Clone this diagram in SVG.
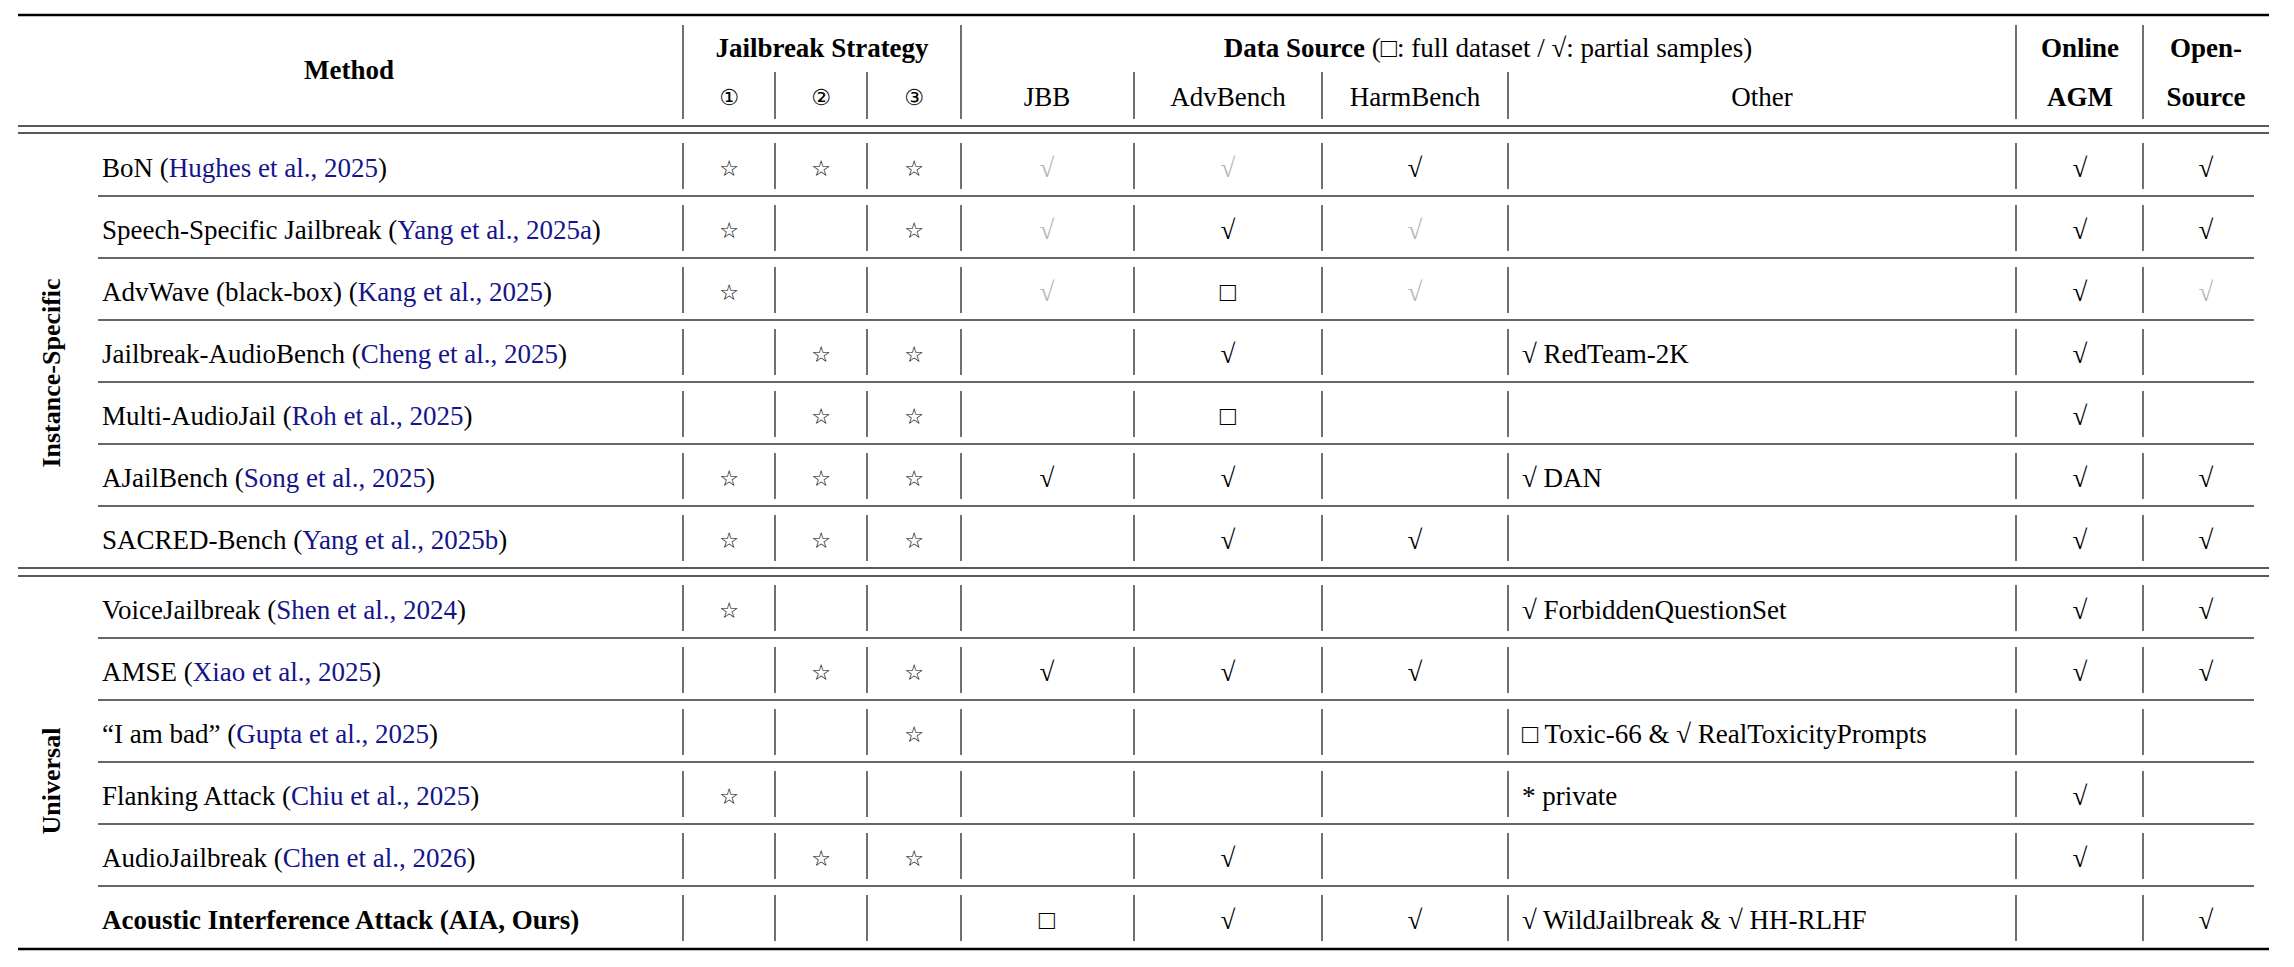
<svg xmlns="http://www.w3.org/2000/svg" width="2294" height="967" viewBox="0 0 2294 967">
<style>
text{font-family:"Liberation Serif","DejaVu Serif",serif;font-size:27px;fill:#000;dominant-baseline:central}
.b{font-weight:bold}
.c{text-anchor:middle}
.l{fill:#14148c}
.g{fill:#b8b8b8}
.s{font-size:22px;font-family:"DejaVu Sans",sans-serif}
.rule{stroke:#000;stroke-width:2.6}
.dbl{stroke:#222;stroke-width:1.6}
.sep{stroke:#333;stroke-width:1.4}
.v{stroke:#333;stroke-width:1.4}
.grp{font-weight:bold;font-size:26px}
</style>
<g id="rules">
<line class="rule" x1="18" y1="15" x2="2269" y2="15"/>
<line class="dbl" x1="18" y1="126" x2="2269" y2="126"/>
<line class="dbl" x1="18" y1="133" x2="2269" y2="133"/>
<line class="dbl" x1="18" y1="568" x2="2269" y2="568"/>
<line class="dbl" x1="18" y1="576" x2="2269" y2="576"/>
<line class="rule" x1="18" y1="949" x2="2269" y2="949"/>
<g class="sep">
<line x1="98" y1="196" x2="2254" y2="196"/><line x1="98" y1="258" x2="2254" y2="258"/>
<line x1="98" y1="320" x2="2254" y2="320"/><line x1="98" y1="382" x2="2254" y2="382"/>
<line x1="98" y1="444" x2="2254" y2="444"/><line x1="98" y1="506" x2="2254" y2="506"/>
<line x1="98" y1="638" x2="2254" y2="638"/><line x1="98" y1="700" x2="2254" y2="700"/>
<line x1="98" y1="762" x2="2254" y2="762"/><line x1="98" y1="824" x2="2254" y2="824"/>
<line x1="98" y1="886" x2="2254" y2="886"/>
</g>
<g class="v">
<line x1="683" y1="25" x2="683" y2="119"/><line x1="961" y1="25" x2="961" y2="119"/>
<line x1="2016" y1="25" x2="2016" y2="119"/><line x1="2143" y1="25" x2="2143" y2="119"/>
<line x1="775" y1="72" x2="775" y2="119"/><line x1="867" y1="72" x2="867" y2="119"/>
<line x1="1134" y1="72" x2="1134" y2="119"/><line x1="1322" y1="72" x2="1322" y2="119"/>
<line x1="1508" y1="72" x2="1508" y2="119"/>
</g>
<path id="vb" class="v" d=""/>
</g>
<g id="header">
<text class="b c" x="349" y="70">Method</text>
<text class="b c" x="822" y="48">Jailbreak Strategy</text>
<text class="c s" x="729" y="97">①</text><text class="c s" x="821" y="97">②</text><text class="c s" x="914" y="97">③</text>
<text class="c" x="1488" y="48"><tspan class="b">Data Source</tspan> (□: full dataset / √: partial samples)</text>
<text class="c" x="1047" y="97">JBB</text><text class="c" x="1228" y="97">AdvBench</text>
<text class="c" x="1415" y="97">HarmBench</text><text class="c" x="1762" y="97">Other</text>
<text class="b c" x="2080" y="48">Online</text><text class="b c" x="2080" y="97">AGM</text>
<text class="b c" x="2206" y="48">Open-</text><text class="b c" x="2206" y="97">Source</text>
</g>
<g id="groups">
<text class="grp c" transform="translate(51,373) rotate(-90)">Instance-Specific</text>
<text class="grp c" transform="translate(51,781) rotate(-90)">Universal</text>
</g>
<g id="rowlines" class="v">
<path d="M683 143V189M775 143V189M867 143V189M961 143V189M1134 143V189M1322 143V189M1508 143V189M2016 143V189M2143 143V189"/>
<path d="M683 205V251M775 205V251M867 205V251M961 205V251M1134 205V251M1322 205V251M1508 205V251M2016 205V251M2143 205V251"/>
<path d="M683 267V313M775 267V313M867 267V313M961 267V313M1134 267V313M1322 267V313M1508 267V313M2016 267V313M2143 267V313"/>
<path d="M683 329V375M775 329V375M867 329V375M961 329V375M1134 329V375M1322 329V375M1508 329V375M2016 329V375M2143 329V375"/>
<path d="M683 391V437M775 391V437M867 391V437M961 391V437M1134 391V437M1322 391V437M1508 391V437M2016 391V437M2143 391V437"/>
<path d="M683 453V499M775 453V499M867 453V499M961 453V499M1134 453V499M1322 453V499M1508 453V499M2016 453V499M2143 453V499"/>
<path d="M683 515V561M775 515V561M867 515V561M961 515V561M1134 515V561M1322 515V561M1508 515V561M2016 515V561M2143 515V561"/>
<path d="M683 585V631M775 585V631M867 585V631M961 585V631M1134 585V631M1322 585V631M1508 585V631M2016 585V631M2143 585V631"/>
<path d="M683 647V693M775 647V693M867 647V693M961 647V693M1134 647V693M1322 647V693M1508 647V693M2016 647V693M2143 647V693"/>
<path d="M683 709V755M775 709V755M867 709V755M961 709V755M1134 709V755M1322 709V755M1508 709V755M2016 709V755M2143 709V755"/>
<path d="M683 771V817M775 771V817M867 771V817M961 771V817M1134 771V817M1322 771V817M1508 771V817M2016 771V817M2143 771V817"/>
<path d="M683 833V879M775 833V879M867 833V879M961 833V879M1134 833V879M1322 833V879M1508 833V879M2016 833V879M2143 833V879"/>
<path d="M683 895V941M775 895V941M867 895V941M961 895V941M1134 895V941M1322 895V941M1508 895V941M2016 895V941M2143 895V941"/>
</g>
<g id="row1">
<text x="102" y="168">BoN (<tspan class="l">Hughes et al., 2025</tspan>)</text>
<text class="c s" x="729" y="168">☆</text><text class="c s" x="821" y="168">☆</text><text class="c s" x="914" y="168">☆</text>
<text class="c g" x="1047" y="168">√</text><text class="c g" x="1228" y="168">√</text><text class="c" x="1415" y="168">√</text>
<text class="c" x="2080" y="168">√</text><text class="c" x="2206" y="168">√</text>
</g>
<g id="row2">
<text x="102" y="230">Speech-Specific Jailbreak (<tspan class="l">Yang et al., 2025a</tspan>)</text>
<text class="c s" x="729" y="230">☆</text><text class="c s" x="914" y="230">☆</text>
<text class="c g" x="1047" y="230">√</text><text class="c" x="1228" y="230">√</text><text class="c g" x="1415" y="230">√</text>
<text class="c" x="2080" y="230">√</text><text class="c" x="2206" y="230">√</text>
</g>
<g id="row3">
<text x="102" y="292">AdvWave (black-box) (<tspan class="l">Kang et al., 2025</tspan>)</text>
<text class="c s" x="729" y="292">☆</text>
<text class="c g" x="1047" y="292">√</text><text class="c" x="1228" y="292">□</text><text class="c g" x="1415" y="292">√</text>
<text class="c" x="2080" y="292">√</text><text class="c g" x="2206" y="292">√</text>
</g>
<g id="row4">
<text x="102" y="354">Jailbreak-AudioBench (<tspan class="l">Cheng et al., 2025</tspan>)</text>
<text class="c s" x="821" y="354">☆</text><text class="c s" x="914" y="354">☆</text>
<text class="c" x="1228" y="354">√</text><text x="1522" y="354">√ RedTeam-2K</text>
<text class="c" x="2080" y="354">√</text>
</g>
<g id="row5">
<text x="102" y="416">Multi-AudioJail (<tspan class="l">Roh et al., 2025</tspan>)</text>
<text class="c s" x="821" y="416">☆</text><text class="c s" x="914" y="416">☆</text>
<text class="c" x="1228" y="416">□</text>
<text class="c" x="2080" y="416">√</text>
</g>
<g id="row6">
<text x="102" y="478">AJailBench (<tspan class="l">Song et al., 2025</tspan>)</text>
<text class="c s" x="729" y="478">☆</text><text class="c s" x="821" y="478">☆</text><text class="c s" x="914" y="478">☆</text>
<text class="c" x="1047" y="478">√</text><text class="c" x="1228" y="478">√</text><text x="1522" y="478">√ DAN</text>
<text class="c" x="2080" y="478">√</text><text class="c" x="2206" y="478">√</text>
</g>
<g id="row7">
<text x="102" y="540">SACRED-Bench (<tspan class="l">Yang et al., 2025b</tspan>)</text>
<text class="c s" x="729" y="540">☆</text><text class="c s" x="821" y="540">☆</text><text class="c s" x="914" y="540">☆</text>
<text class="c" x="1228" y="540">√</text><text class="c" x="1415" y="540">√</text>
<text class="c" x="2080" y="540">√</text><text class="c" x="2206" y="540">√</text>
</g>
<g id="row8">
<text x="102" y="610">VoiceJailbreak (<tspan class="l">Shen et al., 2024</tspan>)</text>
<text class="c s" x="729" y="610">☆</text>
<text x="1522" y="610">√ ForbiddenQuestionSet</text>
<text class="c" x="2080" y="610">√</text><text class="c" x="2206" y="610">√</text>
</g>
<g id="row9">
<text x="102" y="672">AMSE (<tspan class="l">Xiao et al., 2025</tspan>)</text>
<text class="c s" x="821" y="672">☆</text><text class="c s" x="914" y="672">☆</text>
<text class="c" x="1047" y="672">√</text><text class="c" x="1228" y="672">√</text><text class="c" x="1415" y="672">√</text>
<text class="c" x="2080" y="672">√</text><text class="c" x="2206" y="672">√</text>
</g>
<g id="row10">
<text x="102" y="734">“I am bad” (<tspan class="l">Gupta et al., 2025</tspan>)</text>
<text class="c s" x="914" y="734">☆</text>
<text x="1522" y="734">□ Toxic-66 &amp; √ RealToxicityPrompts</text>
</g>
<g id="row11">
<text x="102" y="796">Flanking Attack (<tspan class="l">Chiu et al., 2025</tspan>)</text>
<text class="c s" x="729" y="796">☆</text>
<text x="1522" y="796">* private</text>
<text class="c" x="2080" y="796">√</text>
</g>
<g id="row12">
<text x="102" y="858">AudioJailbreak (<tspan class="l">Chen et al., 2026</tspan>)</text>
<text class="c s" x="821" y="858">☆</text><text class="c s" x="914" y="858">☆</text>
<text class="c" x="1228" y="858">√</text>
<text class="c" x="2080" y="858">√</text>
</g>
<g id="row13">
<text class="b" x="102" y="920">Acoustic Interference Attack (AIA, Ours)</text>
<text class="c" x="1047" y="920">□</text><text class="c" x="1228" y="920">√</text><text class="c" x="1415" y="920">√</text>
<text x="1522" y="920">√ WildJailbreak &amp; √ HH-RLHF</text>
<text class="c" x="2206" y="920">√</text>
</g>
</svg>
